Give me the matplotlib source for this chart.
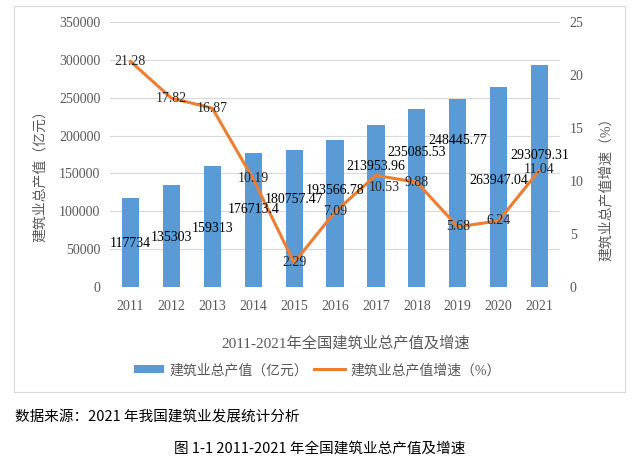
import numpy as np
import matplotlib
matplotlib.use('Agg')
import matplotlib.pyplot as plt
from matplotlib.patches import Rectangle, Patch
from matplotlib.lines import Line2D

plt.rcParams['font.family'] = ['Liberation Serif', 'Noto Sans CJK SC']

# 1. Data
years = ['2011', '2012', '2013', '2014', '2015', '2016', '2017', '2018', '2019', '2020', '2021']
output_value = [117734, 135303, 159313, 176713.4, 180757.47, 193566.78, 213953.96,
                235085.53, 248445.77, 263947.04, 293079.31]
output_labels = ['117734', '135303', '159313', '176713.4', '180757.47', '193566.78',
                 '213953.96', '235085.53', '248445.77', '263947.04', '293079.31']
growth_rate = [21.28, 17.82, 16.87, 10.19, 2.29, 7.09, 10.53, 9.88, 5.68, 6.24, 11.04]

# label heights as placed in the original chart (bar labels in 亿元, rate labels in %)
bar_label_y = [58100, 66000, 77900, 101700, 115000, 128000, 158500, 178000, 193000, 141000, 174000]
rate_label_y = [21.28, 17.82, 16.87, 10.19, 2.29, 7.09, 9.35, 9.88, 5.68, 6.24, 11.04]
rate_label_dx = [0, 0, 0, 0, 0, 0, 6, 0, 0, 0, 0]  # small nudge in points

bar_color = '#5B9BD5'
line_color = '#ED7D31'
grey = '#595959'

W, H = 640, 462
fig = plt.figure(figsize=(W / 100, H / 100), dpi=100)

# chart frame
fig.patches.append(Rectangle((14 / W, 1 - 392 / H), (625 - 14) / W, (392 - 6) / H,
                             transform=fig.transFigure, fill=False,
                             edgecolor='#D9D9D9', linewidth=0.8))

ax = fig.add_axes([110 / W, 1 - 287 / H, (560 - 110) / W, (287 - 22) / H])
x = np.arange(len(years))

# 2. Bars
ax.bar(x, output_value, width=0.42, color=bar_color, zorder=2)
ax.set_xlim(-0.5, len(years) - 0.5)
ax.set_ylim(0, 350000)
ax.set_yticks(np.arange(0, 350001, 50000))
ax.set_xticks(x)
ax.set_xticklabels(years)
ax.grid(axis='y', color='#D9D9D9', linewidth=0.8, zorder=0)
ax.set_axisbelow(True)
for s in ax.spines.values():
    s.set_visible(False)
ax.tick_params(axis='both', length=0, labelsize=10, labelcolor=grey)
ax.tick_params(axis='y', pad=7)
ax.tick_params(axis='x', pad=9)

# 3. Growth line on secondary axis
ax2 = ax.twinx()
ax2.plot(x, growth_rate, color=line_color, linewidth=2.2, zorder=3)
ax2.set_ylim(0, 25)
ax2.set_yticks(np.arange(0, 26, 5))
for s in ax2.spines.values():
    s.set_visible(False)
ax2.tick_params(axis='y', length=0, labelsize=10, labelcolor=grey, pad=7)

# 4. Data labels
for i in range(len(years)):
    ax2.annotate(f'{growth_rate[i]:.2f}', (x[i], rate_label_y[i]), xytext=(rate_label_dx[i], 0),
                 textcoords='offset points', ha='center', va='center',
                 fontsize=10, color='#262626', zorder=5)
    ax2.text(x[i], bar_label_y[i] / 350000 * 25, output_labels[i], ha='center', va='center',
             fontsize=10, color='black', zorder=6)

# axis titles
fig.text(40 / W, 1 - 173 / H, '建筑业总产值（亿元）', rotation=90, ha='center', va='center',
         fontsize=10, color=grey)
fig.text(606 / W, 1 - 186 / H, '建筑业总产值增速（%）', rotation=90, ha='center', va='center',
         fontsize=10, color=grey)

# 5. Title and legend
fig.text(346 / W, 1 - 343 / H, '2011-2021年全国建筑业总产值及增速', ha='center', va='center',
         fontsize=11, color=grey)
handles = [Patch(facecolor=bar_color), Line2D([0], [0], color=line_color, linewidth=2.2)]
leg = fig.legend(handles, ['建筑业总产值（亿元）', '建筑业总产值增速（%）'], loc='center',
                 bbox_to_anchor=(317 / W, 1 - 370 / H), ncol=2, frameon=False, fontsize=10,
                 handlelength=2.2, handleheight=0.6, handletextpad=0.4, columnspacing=0.4)
for t in leg.get_texts():
    t.set_color(grey)

# 6. Source and caption
fig.text(15 / W, 1 - 418 / H, '数据来源：2021 年我国建筑业发展统计分析', ha='left', va='center',
         fontsize=10.5, color='black', family=['Noto Sans CJK SC'])
fig.text(320 / W, 1 - 449 / H, '图 1-1 2011-2021 年全国建筑业总产值及增速', ha='center', va='center',
         fontsize=10.5, color='black', family=['Noto Sans CJK SC'])

fig.savefig('out.png', dpi=100)
